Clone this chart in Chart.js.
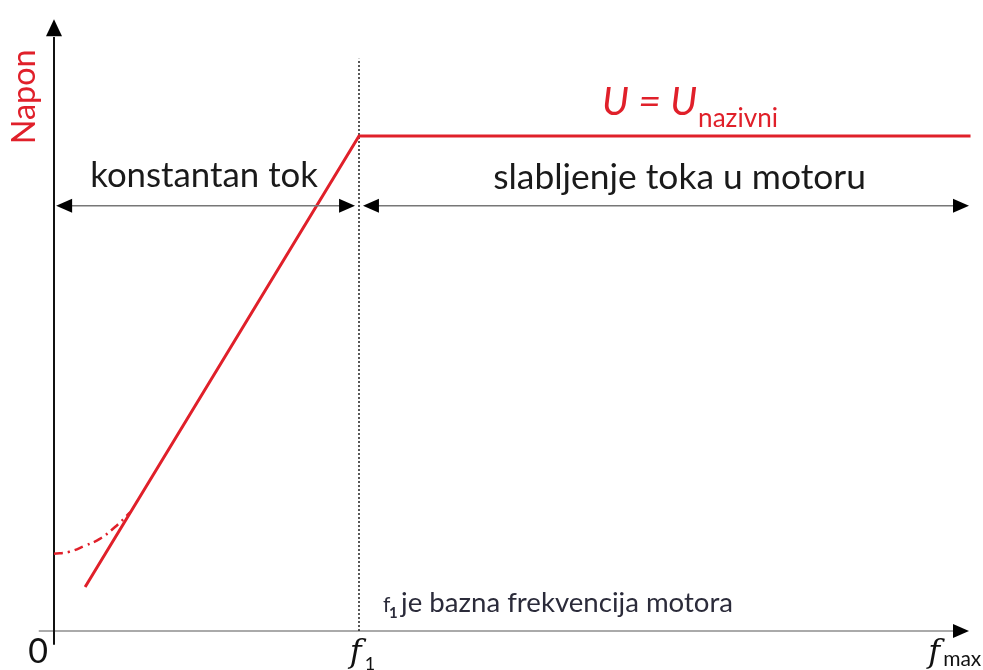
<!DOCTYPE html>
<html>
<head>
<meta charset="utf-8">
<style>html,body{margin:0;background:#fff}canvas{display:block}</style>
<script src="https://cdn.jsdelivr.net/npm/chart.js@4/dist/chart.umd.min.js"></script>
</head>
<body>
<canvas id="chart" width="983" height="670"></canvas>
<script>
// frequency in units of f1, voltage in units of U nazivni
const mainF = [0.102, 1, 3.005];
const mainU = [0.089, 1, 1];
const boostF = [0, 0.05, 0.1, 0.15, 0.2, 0.25];
const boostU = [0.156, 0.16, 0.172, 0.186, 0.21, 0.24];
const f1Line = [0, 1.156];
const spanY = 0.859;
const spans = [[0.007, 0.987], [1.013, 3.0]];

const RED = '#e0202a';
const FONT = 'Lato, "Open Sans", sans-serif';

function head(ctx, x, y, dir, len, hw) {
  ctx.beginPath();
  if (dir === 'up') { ctx.moveTo(x, y); ctx.lineTo(x - hw, y + len); ctx.lineTo(x + hw, y + len); }
  if (dir === 'right') { ctx.moveTo(x, y); ctx.lineTo(x - len, y - hw); ctx.lineTo(x - len, y + hw); }
  if (dir === 'left') { ctx.moveTo(x, y); ctx.lineTo(x + len, y - hw); ctx.lineTo(x + len, y + hw); }
  ctx.closePath();
  ctx.fillStyle = '#000';
  ctx.fill();
}

// pick a font size so the text spans the width seen in the picture
function fit(ctx, text, style, w) {
  ctx.font = style + ' 40px ' + FONT;
  const s = 40 * w / ctx.measureText(text).width;
  return style + ' ' + s.toFixed(1) + 'px ' + FONT;
}

function txt(ctx, text, x, y, font, color, align) {
  ctx.font = font;
  ctx.fillStyle = color;
  ctx.textAlign = align || 'left';
  ctx.textBaseline = 'alphabetic';
  ctx.fillText(text, x, y);
}

const overlay = {
  id: 'overlay',
  beforeDatasetsDraw(chart) {
    const ctx = chart.ctx, X = chart.scales.x, Y = chart.scales.y;
    ctx.save();
    // x axis
    ctx.strokeStyle = '#aaa'; ctx.lineWidth = 2;
    ctx.beginPath(); ctx.moveTo(X.getPixelForValue(-0.05), Y.getPixelForValue(0));
    ctx.lineTo(X.getPixelForValue(2.97), Y.getPixelForValue(0)); ctx.stroke();
    head(ctx, X.getPixelForValue(3.0), Y.getPixelForValue(0), 'right', 16, 7);
    // y axis
    ctx.strokeStyle = '#111'; ctx.lineWidth = 2;
    ctx.beginPath(); ctx.moveTo(X.getPixelForValue(0), Y.getPixelForValue(-0.028));
    ctx.lineTo(X.getPixelForValue(0), Y.getPixelForValue(1.2)); ctx.stroke();
    head(ctx, X.getPixelForValue(0), Y.getPixelForValue(1.236), 'up', 17, 8);
    ctx.restore();
  },
  afterDatasetsDraw(chart) {
    const ctx = chart.ctx, X = chart.scales.x, Y = chart.scales.y;
    const px = v => X.getPixelForValue(v), py = v => Y.getPixelForValue(v);
    ctx.save();
    // double arrows
    spans.forEach(([a, b]) => {
      ctx.strokeStyle = '#777'; ctx.lineWidth = 1.5;
      ctx.beginPath(); ctx.moveTo(px(a) + 12, py(spanY)); ctx.lineTo(px(b) - 12, py(spanY)); ctx.stroke();
      head(ctx, px(a), py(spanY), 'left', 16, 7);
      head(ctx, px(b), py(spanY), 'right', 16, 7);
    });
    // region labels
    txt(ctx, 'konstantan tok', px(0.492), py(0.897), fit(ctx, 'konstantan tok', 'normal', 228), '#1a1a1a', 'center');
    txt(ctx, 'slabljenje toka u motoru', px(2.051), py(0.893), fit(ctx, 'slabljenje toka u motoru', 'normal', 373), '#1a1a1a', 'center');
    // U = U nazivni
    txt(ctx, 'U = U', px(1.797), py(1.042), fit(ctx, 'U = U', 'italic', 95), RED);
    txt(ctx, 'nazivni', px(1.797) + 96, py(1.018), fit(ctx, 'nazivni', 'normal', 80), RED);
    // footnote
    txt(ctx, 'f', px(1.079), py(0.038), 'normal 21px ' + FONT, '#2b2b3a');
    txt(ctx, '1', px(1.079) + 6, py(0.026), 'bold 15px ' + FONT, '#2b2b3a');
    txt(ctx, 'je bazna frekvencija motora', px(1.079) + 18, py(0.038), fit(ctx, 'je bazna frekvencija motora', 'normal', 332), '#2b2b3a');
    // axis labels
    ctx.save();
    ctx.translate(px(-0.095), py(1.079));
    ctx.rotate(-Math.PI / 2);
    ctx.font = fit(ctx, 'Napon', 'normal', 95);
    ctx.fillStyle = RED; ctx.textAlign = 'center'; ctx.textBaseline = 'middle';
    ctx.fillText('Napon', 0, 0);
    ctx.restore();
    txt(ctx, '0', px(-0.052), py(-0.065), 'normal 34px ' + FONT, '#111', 'center');
    txt(ctx, 'f', px(0.97), py(-0.063), 'italic 32px "DejaVu Serif", serif', '#111');
    txt(ctx, '1', px(0.97) + 15, py(-0.078), 'normal 18px ' + FONT, '#111');
    txt(ctx, 'f', px(2.866), py(-0.063), 'italic 32px "DejaVu Serif", serif', '#111');
    txt(ctx, 'max', px(2.866) + 15, py(-0.07), 'normal 21px ' + FONT, '#111');
    ctx.restore();
  }
};

const toPts = (xs, ys) => xs.map((v, i) => ({ x: v, y: ys[i] }));

new Chart(document.getElementById('chart'), {
  type: 'scatter',
  data: {
    datasets: [
      { data: toPts(mainF, mainU), showLine: true, borderColor: RED, borderWidth: 3, pointRadius: 0 },
      { data: toPts(boostF, boostU), showLine: true, borderColor: RED, borderWidth: 2.5, borderDash: [9, 5, 2, 5], tension: 0.4, pointRadius: 0 },
      { data: toPts([1, 1], f1Line), showLine: true, borderColor: '#222', borderWidth: 1.5, borderDash: [2, 2], pointRadius: 0 }
    ]
  },
  options: {
    responsive: false,
    animation: false,
    layout: { padding: { left: 38.75, right: 1.8, top: 17.2, bottom: 4.35 } },
    plugins: { legend: { display: false }, tooltip: { enabled: false } },
    scales: {
      x: { type: 'linear', min: -0.05, max: 3.04, display: false },
      y: { type: 'linear', min: -0.07, max: 1.24, display: false }
    }
  },
  plugins: [overlay]
});
</script>
</body>
</html>
